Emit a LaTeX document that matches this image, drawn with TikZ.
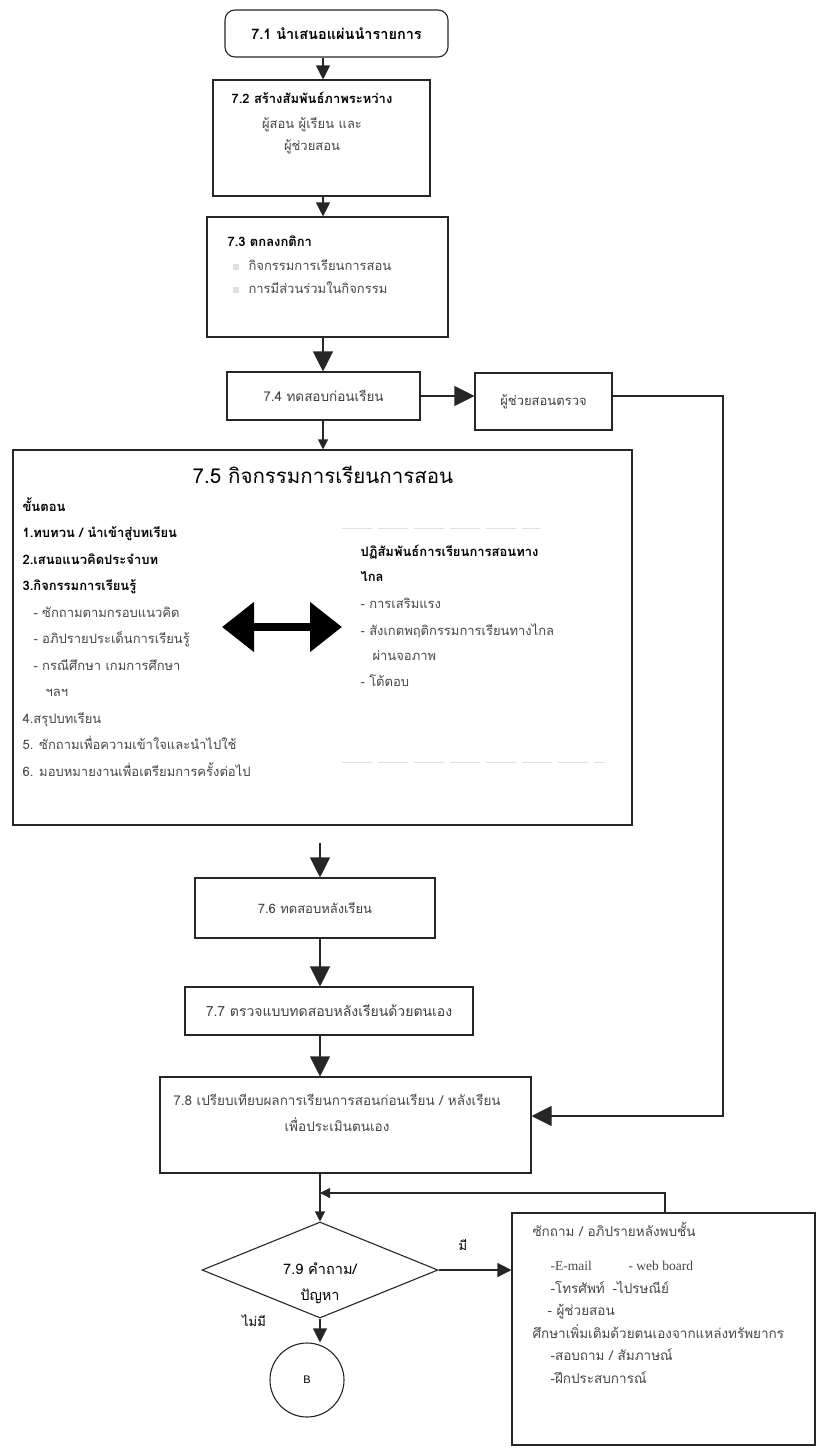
\documentclass[tikz,border=0pt]{standalone}
\usepackage{fontspec}
\setmainfont{Loma}[Script=Thai]
\newfontfamily\latinserif{Liberation Serif}
\newfontfamily\latinsans{Liberation Sans}
\usetikzlibrary{arrows.meta,shapes.geometric}

\newcommand\fnorm{\fontsize{13}{15}\selectfont}
\newcommand\fbig{\fontsize{14}{16}\selectfont}
\newcommand\fhead{\fontsize{20.5}{24}\selectfont}

\tikzset{
  box/.style={draw=black!85, line width=1.1pt, inner sep=0pt, font=\fnorm, text=black!75},
  ln/.style={anchor=west, inner sep=0pt, text height=9pt, text depth=3pt, font=\fnorm, text=black!72},
  hd/.style={ln, text=black, font=\fnorm\bfseries},
  lc/.style={ln, anchor=center},
  bigtip/.style={-{Triangle[length=20pt,width=20pt]}},
  midtip/.style={-{Triangle[length=14pt,width=14pt]}},
  smalltip/.style={-{Triangle[length=10pt,width=10pt]}},
}

\begin{document}
\begin{tikzpicture}[x=1pt,y=-1pt,line width=1.1pt,draw=black!85]
\useasboundingbox (0,0) rectangle (819,1448);
\coordinate (col) at (323,0);
\coordinate (col2) at (320,0);

% boxes of the main flow
\node[box, rounded corners=10pt, minimum width=223pt, minimum height=47pt, font=\fontsize{14.5}{16}\selectfont\bfseries, text=black] (n71) at (336.5,33.5) {7.1 นำเสนอแผ่นนำรายการ};
\node[box, minimum width=217pt, minimum height=116pt] (n72) at (321.5,138) {};
\node[box, minimum width=241pt, minimum height=120pt] (n73) at (327.5,277) {};
\node[box, minimum width=193pt, minimum height=48pt, font=\fontsize{13.5}{15}\selectfont] (n74) at (323.5,396) {7.4 ทดสอบก่อนเรียน};
\node[box, minimum width=137pt, minimum height=57pt] (nchk) at (543.5,401.5) {ผู้ช่วยสอนตรวจ};
\node[box, minimum width=619pt, minimum height=375pt] (n75) at (322.5,637.5) {};
\node[box, minimum width=240pt, minimum height=60pt] (n76) at (315,908) {7.6 ทดสอบหลังเรียน};
\node[box, minimum width=288pt, minimum height=48pt, font=\fbig] (n77) at (329,1011) {7.7 ตรวจแบบทดสอบหลังเรียนด้วยตนเอง};
\node[box, minimum width=371pt, minimum height=96pt] (n78) at (345.5,1125) {};
\node[box, shape=diamond, minimum width=236pt, minimum height=96pt] (n79) at (320,1270) {};
\node[box, shape=circle, minimum size=74pt, font=\latinsans\fontsize{11}{13}\selectfont, text=black] (nB) at (307,1380) {B};
\node[box, minimum width=303pt, minimum height=232pt] (nhelp) at (663.5,1329) {};

% texts of 7.2 and 7.3
\node[lc, text=black, font=\fnorm\bfseries] (t72a) at (312,100) {7.2 สร้างสัมพันธ์ภาพระหว่าง};
\node[lc] (t72b) at (312,125) {ผู้สอน ผู้เรียน และ};
\node[lc] (t72c) at (312,147) {ผู้ช่วยสอน};
\node[hd] (t73a) at (227,243) {7.3 ตกลงกติกา};
\node[ln] (t73b) at (248,267) {กิจกรรมการเรียนการสอน};
\node[ln] (t73c) at (248,290) {การมีส่วนร่วมในกิจกรรม};
\node[fill=black!12, minimum size=6pt, inner sep=0pt] (b73b) at (236,267) {};
\node[fill=black!12, minimum size=6pt, inner sep=0pt] (b73c) at (236,290) {};

% 7.5
\node[lc, text=black, font=\fhead, text height=15pt, text depth=5pt] (t75) at (323,478) {7.5 กิจกรรมการเรียนการสอน};
\node[hd] (s0) at (22,508) {ขั้นตอน};
\node[hd] (s1) at (22,534.5) {1.ทบทวน / นำเข้าสู่บทเรียน};
\node[hd] (s2) at (22,561) {2.เสนอแนวคิดประจำบท};
\node[hd] (s3) at (22,587.5) {3.กิจกรรมการเรียนรู้};
\node[ln] (s3a) at (33,614) {- ซักถามตามกรอบแนวคิด};
\node[ln] (s3b) at (33,640.5) {- อภิปรายประเด็นการเรียนรู้};
\node[ln] (s3c) at (33,667) {- กรณีศึกษา เกมการศึกษา};
\node[ln] (s3d) at (45,693.5) {ฯลฯ};
\node[ln] (s4) at (22,720) {4.สรุปบทเรียน};
\node[ln] (s5) at (22,746.5) {5. ซักถามเพื่อความเข้าใจและนำไปใช้};
\node[ln] (s6) at (22,773) {6. มอบหมายงานเพื่อเตรียมการครั้งต่อไป};

\node[hd] (r0) at (360,553) {ปฏิสัมพันธ์การเรียนการสอนทาง};
\node[hd] (r0b) at (360,578) {ไกล};
\node[ln] (r1) at (360,605) {- การเสริมแรง};
\node[ln] (r2) at (360,632) {- สังเกตพฤติกรรมการเรียนทางไกล};
\node[ln] (r2b) at (372,657) {ผ่านจอภาพ};
\node[ln] (r3) at (360,683) {- โต้ตอบ};
\draw[black!12, line width=1pt, dash pattern=on 30pt off 6pt] (342,528) -- (540,528);
\draw[black!12, line width=1pt, dash pattern=on 30pt off 6pt] (342,762) -- (605,762);

\coordinate (dblL) at (222,627);
\coordinate (dblR) at (342,627);
\draw[black, line width=8pt, {Triangle[length=32pt,width=48pt]}-{Triangle[length=32pt,width=48pt]}] (dblL) -- (dblR);

% 7.8, 7.9
\node[lc, font=\fontsize{13.5}{15}\selectfont] (t78a) at (337,1102) {7.8 เปรียบเทียบผลการเรียนการสอนก่อนเรียน / หลังเรียน};
\node[lc, font=\fontsize{13.5}{15}\selectfont] (t78b) at (337,1128) {เพื่อประเมินตนเอง};
\node[lc, text=black, font=\fontsize{14.5}{16}\selectfont] (t79a) at (320,1271) {7.9 คำถาม/};
\node[lc, text=black, font=\fontsize{14.5}{16}\selectfont] (t79b) at (320,1297) {ปัญหา};
\node[lc, text=black] (lyes) at (463,1247) {มี};
\node[lc, text=black] (lno) at (254,1323) {ไม่มี};

% help box
\node[ln, font=\fontsize{13.5}{15}\selectfont] (h1) at (532,1233) {ซักถาม / อภิปรายหลังพบชั้น};
\node[ln, font=\latinserif\fontsize{13.5}{15}\selectfont] (h2) at (550,1267) {-E-mail};
\node[ln, font=\latinserif\fontsize{13.5}{15}\selectfont] (h2b) at (628,1267) {- web board};
\node[ln, font=\fontsize{13.5}{15}\selectfont] (h3) at (550,1290) {-โทรศัพท์};
\node[ln, font=\fontsize{13.5}{15}\selectfont] (h3b) at (612,1290) {-ไปรษณีย์};
\node[ln, font=\fontsize{13.5}{15}\selectfont] (h4) at (547,1312) {- ผู้ช่วยสอน};
\node[ln, font=\fontsize{13.5}{15}\selectfont] (h5) at (532,1335) {ศึกษาเพิ่มเติมด้วยตนเองจากแหล่งทรัพยากร};
\node[ln, font=\fontsize{13.5}{15}\selectfont] (h6) at (550,1357) {-สอบถาม / สัมภาษณ์};
\node[ln, font=\fontsize{13.5}{15}\selectfont] (h7) at (550,1380) {-ฝึกประสบการณ์};

% connectors
\coordinate (fb) at (723,396);
\coordinate (loop) at (665,1193);
\draw[midtip] (n71.south -| col) -- (n72.north -| col);
\draw[midtip] (n72.south -| col) -- (n73.north -| col);
\draw[bigtip] (n73.south -| col) -- (n74.north -| col);
\draw[smalltip] (n74.south -| col) -- (n75.north -| col);
\draw[bigtip] (n74.east) -- (nchk.west |- n74.east);
\draw[bigtip] (nchk.east |- fb) -- (fb) |- ([yshift=9pt]n78.east);
\draw[bigtip, shorten <=17pt] (n75.south -| col2) -- (n76.north -| col2);
\draw[bigtip] (n76.south -| col2) -- (n77.north -| col2);
\draw[bigtip] (n77.south -| col2) -- (n78.north -| col2);
\draw[smalltip] (n78.south -| col2) -- (n79.north);
\draw[smalltip] (nhelp.north -| loop) -- (loop) -- (loop -| col2);
\draw[midtip] (n79.east) -- (nhelp.west |- n79.east);
\draw[midtip] (n79.south) -- (n79.south |- nB.north);
\end{tikzpicture}
\end{document}
